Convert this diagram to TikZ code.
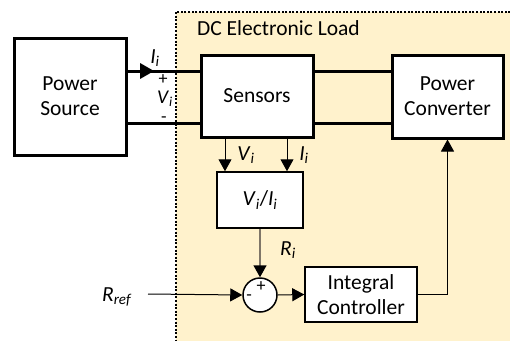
\documentclass[tikz,border=0pt]{standalone}
\usepackage{fontspec}
\setmainfont{Carlito}
\usetikzlibrary{arrows.meta,decorations.markings}
\definecolor{loadfill}{HTML}{FFF2CC}
\definecolor{rline}{HTML}{7F7668}
\newcommand{\vsub}[2]{\textit{#1}\textsubscript{\textit{#2}}}
\begin{document}
\begin{tikzpicture}[x=1pt,y=-1pt,font=\fontsize{21.5}{25}\selectfont,
  bigbox/.style={draw,line width=3pt,fill=white,align=center,inner sep=0pt},
  smallbox/.style={draw,line width=1.5pt,fill=white,align=center,inner sep=0pt},
  wire/.style={line width=3pt},
  sig/.style={line width=1pt,-{Triangle[length=12pt,width=13pt]}},
  lbl/.style={inner sep=0pt},
  sign/.style={inner sep=0pt,font=\fontsize{18}{19}\selectfont}]
\useasboundingbox (0,0) rectangle (510,340);
\begin{scope}
\clip (0,0) rectangle (510,340);
\draw[fill=loadfill,line width=1.3pt,dash pattern=on 2pt off 1.6pt] (176,12) rectangle (520,350);
\end{scope}
\node[lbl,anchor=base west] (title) at (197,35) {DC Electronic Load};
% blocks
\node[bigbox,minimum width=112pt,minimum height=117pt] (ps) at (70,96.5) {Power\\Source};
\node[bigbox,minimum width=112pt,minimum height=82pt] (sens) at (257,96) {Sensors};
\node[bigbox,minimum width=111pt,minimum height=83pt] (pc) at (447.5,96.5) {Power\\Converter};
\node[smallbox,minimum width=86pt,minimum height=56pt] (div) at (260,200) {\vsub{V}{i}/\vsub{I}{i}};
\node[circle,draw,line width=1.5pt,fill=white,minimum size=34pt,inner sep=0pt] (sum) at (260,295) {};
\node[smallbox,minimum width=112pt,minimum height=55pt] (ic) at (361,294.5) {Integral\\Controller};
% helper coordinates
\coordinate (ytop) at (0,71);
\coordinate (ybot) at (0,123);
\coordinate (xv) at (225,0);
\coordinate (xi) at (287,0);
\coordinate (rref) at (148,294);
% power wires
\draw[wire,postaction={decorate,decoration={markings,mark=at position 0.37 with {\arrow{Triangle[length=14pt,width=15pt]}}}}] (ps.east |- ytop) -- (sens.west |- ytop);
\draw[wire] (ps.east |- ybot) -- (sens.west |- ybot);
\draw[wire] (sens.east |- ytop) -- (pc.west |- ytop);
\draw[wire] (sens.east |- ybot) -- (pc.west |- ybot);
% signals
\draw[sig] (sens.south -| xv) -- (div.north -| xv);
\draw[sig] (sens.south -| xi) -- (div.north -| xi);
\draw[line width=1.5pt,rline,-{Triangle[length=12pt,width=13pt,color=black]}] (div.south) -- (sum.north);
\draw[sig] (rref) -- (sum.west);
\draw[sig] (sum.east) -- (ic.west);
\draw[sig] (ic.east) -| (pc.south);
% labels
\node[lbl] (li) at (155,58) {\vsub{I}{i}};
\node[sign] (lplus) at (163,79.5) {+};
\node[lbl,font=\fontsize{19.5}{21}\selectfont] (lv) at (165,99) {\vsub{V}{i}};
\node[sign] (lminus) at (164,120) {-};
\node[lbl] (lvs) at (246,155) {\vsub{V}{i}};
\node[lbl] (lis) at (304,155) {\vsub{I}{i}};
\node[lbl] (lri) at (288,250) {\vsub{R}{i}};
\node[lbl] (lrref) at (117,297) {\vsub{R}{ref}};
\node[sign] (splus) at (261,287) {+};
\node[sign] (sminus) at (249,298) {-};
\end{tikzpicture}
\end{document}
